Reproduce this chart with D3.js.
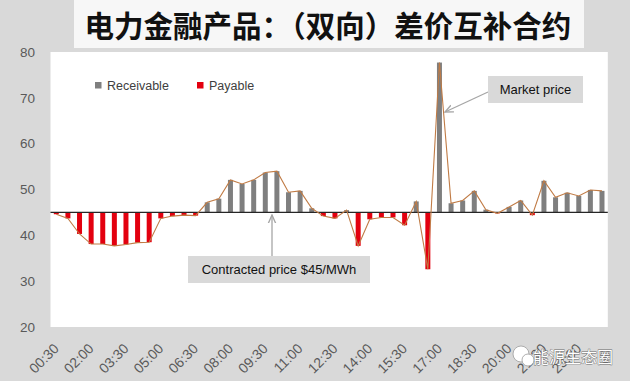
<!DOCTYPE html>
<html><head><meta charset="utf-8">
<script src="https://cdn.jsdelivr.net/npm/d3@7"></script>
<style>body{margin:0;background:#d9d9d9;}svg{display:block;}</style>
</head><body>
<svg id="c" width="630" height="381"></svg>
<script>
const title = "电力金融产品：（双向）差价互补合约";
const periods = ["00:30","01:00","01:30","02:00","02:30","03:00","03:30","04:00","04:30","05:00","05:30","06:00",
"06:30","07:00","07:30","08:00","08:30","09:00","09:30","10:00","10:30","11:00","11:30","12:00",
"12:30","13:00","13:30","14:00","14:30","15:00","15:30","16:00","16:30","17:00","17:30","18:00",
"18:30","19:00","19:30","20:00","20:30","21:00","21:30","22:00","22:30","23:00","23:30","24:00"];
const marketPrice = [44.6,43.7,40.3,38.1,38.1,37.7,38.0,38.4,38.5,43.7,44.2,44.4,
44.3,47.2,48.0,52.1,51.2,52.1,53.7,54.0,49.4,49.7,45.9,44.2,
43.7,45.5,37.7,43.5,43.9,43.9,42.2,47.4,32.6,77.7,47.0,47.6,
49.7,45.6,44.8,46.2,47.6,44.4,51.9,48.3,49.3,48.6,49.9,49.7];
const contractPrice = 45;
const yTicks = [20,30,40,50,60,70,80];
const tickLabels = ["00:30","02:00","03:30","05:00","06:30","08:00","09:30","11:00","12:30","14:00","15:30","17:00","18:30","20:00","21:30","23:00"];
const legendItems = ["Receivable","Payable"];

const svg = d3.select("#c");
const W=630,H=381;
svg.append("rect").attr("width",W).attr("height",H).attr("fill","#d9d9d9");
const L=50.5,R=607.8,T=52,B=327;
svg.append("rect").attr("x",L).attr("y",T).attr("width",R-L).attr("height",B-T).attr("fill","#ffffff");

// title box
svg.append("rect").attr("x",74).attr("y",0).attr("width",510).attr("height",48).attr("fill","#f7f7f7");
svg.append("text").attr("x",328).attr("y",37).attr("text-anchor","middle")
  .attr("font-family","'Noto Sans CJK SC'").attr("font-weight","bold").attr("font-size",29.5)
  .attr("fill","#111").text(title);

const x = d3.scaleBand().domain(periods).range([L,R]).paddingInner(0.57).paddingOuter(0.285);
const y = d3.scaleLinear().domain([20,80]).range([B,T]);
const cx = d => x(d)+x.bandwidth()/2;

// y axis labels
svg.selectAll(".yt").data(yTicks).enter().append("text")
  .attr("x",35).attr("y",d=>y(d)).attr("dy","0.35em").attr("text-anchor","end")
  .attr("font-family","'Liberation Sans'").attr("font-size",13.5).attr("fill","#595959").text(d=>d);

// x labels
svg.selectAll(".xt").data(tickLabels).enter().append("text")
  .attr("transform",d=>`translate(${cx(d)},346) rotate(-45)`)
  .attr("text-anchor","end").attr("dy","0.35em")
  .attr("font-family","'Liberation Sans'").attr("font-size",14).attr("fill","#595959").text(d=>d);

// bars
const data = periods.map((p,i)=>({p,v:marketPrice[i]}));
svg.selectAll(".bar").data(data).enter().append("rect")
  .attr("x",d=>x(d.p)).attr("width",x.bandwidth())
  .attr("y",d=>y(Math.max(d.v,contractPrice)))
  .attr("height",d=>Math.abs(y(d.v)-y(contractPrice)))
  .attr("fill",d=>d.v>=contractPrice?"#7f7f7f":"#e3000f");

// baseline
svg.append("line").attr("x1",L).attr("x2",R).attr("y1",y(contractPrice)).attr("y2",y(contractPrice))
  .attr("stroke","#262626").attr("stroke-width",1.3);

// market price line
svg.append("path").datum(data)
  .attr("d",d3.line().x(d=>cx(d.p)).y(d=>y(d.v)))
  .attr("fill","none").attr("stroke","#c07b45").attr("stroke-width",1.1);

// legend
const leg = [{t:legendItems[0],c:"#7f7f7f",x:95},{t:legendItems[1],c:"#e3000f",x:197}];
leg.forEach(l=>{
  svg.append("rect").attr("x",l.x).attr("y",82).attr("width",6.5).attr("height",6.5).attr("fill",l.c);
  svg.append("text").attr("x",l.x+12).attr("y",85.5).attr("dy","0.35em")
    .attr("font-family","'Liberation Sans'").attr("font-size",12.5).attr("fill","#404040").text(l.t);
});

// arrow marker
const defs = svg.append("defs");
defs.append("marker").attr("id","ah").attr("viewBox","0 0 10 10").attr("refX",9).attr("refY",5)
  .attr("markerWidth",7).attr("markerHeight",7).attr("orient","auto")
  .append("path").attr("d","M0,1 L9,5 L0,9").attr("fill","none").attr("stroke","#a6a6a6").attr("stroke-width",1.5);

// market price annotation
svg.append("line").attr("x1",488).attr("y1",92).attr("x2",445).attr("y2",112)
  .attr("stroke","#a6a6a6").attr("stroke-width",1.3).attr("marker-end","url(#ah)");
svg.append("rect").attr("x",488).attr("y",76).attr("width",95).attr("height",27).attr("fill","#d9d9d9");
svg.append("text").attr("x",535.5).attr("y",89.5).attr("dy","0.35em").attr("text-anchor","middle")
  .attr("font-family","'Liberation Sans'").attr("font-size",13).attr("fill","#111").text("Market price");

// contracted price annotation
svg.append("line").attr("x1",272).attr("y1",256).attr("x2",272).attr("y2",215)
  .attr("stroke","#a6a6a6").attr("stroke-width",1.3).attr("marker-end","url(#ah)");
svg.append("rect").attr("x",188).attr("y",256).attr("width",182).attr("height",27).attr("fill","#d9d9d9");
svg.append("text").attr("x",279).attr("y",269.5).attr("dy","0.35em").attr("text-anchor","middle")
  .attr("font-family","'Liberation Sans'").attr("font-size",13).attr("fill","#111").text("Contracted price $45/MWh");

// watermark
const wm = svg.append("g");
wm.append("circle").attr("cx",521).attr("cy",354).attr("r",8).attr("fill","#ffffff").attr("stroke","#9a9a9a").attr("stroke-width",0.8);
wm.append("circle").attr("cx",528).attr("cy",360).attr("r",6).attr("fill","#ffffff").attr("stroke","#9a9a9a").attr("stroke-width",0.8);
wm.append("text").attr("x",533).attr("y",357).attr("dy","0.35em")
  .attr("font-family","'Noto Sans CJK SC'").attr("font-size",16).attr("fill","#ffffff")
  .attr("stroke","#6a6a6a").attr("stroke-width",0.8).attr("paint-order","stroke").text("能源生态圈");
</script>
</body></html>
